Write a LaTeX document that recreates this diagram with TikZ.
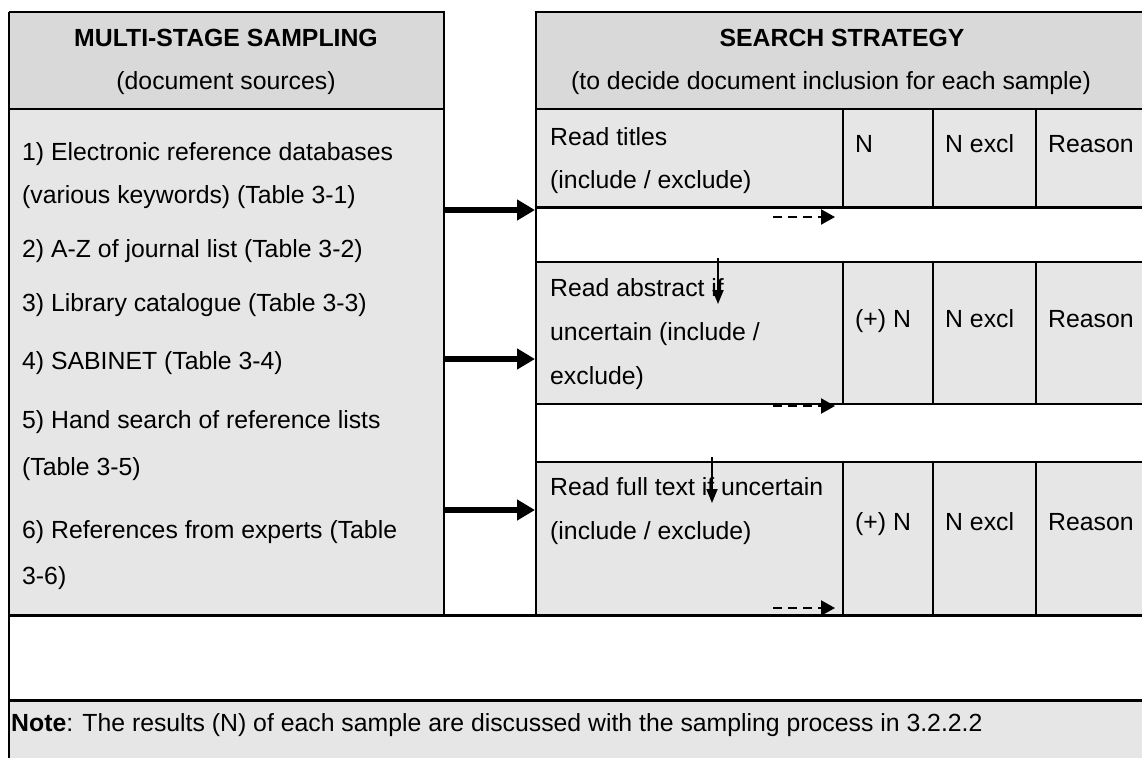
\documentclass[tikz,border=0pt]{standalone}
\usepackage{fontspec}
\setmainfont{Liberation Sans}
\usetikzlibrary{arrows.meta}
\definecolor{hdrgray}{HTML}{D9D9D9}
\definecolor{bodygray}{HTML}{E6E6E6}
\begin{document}
\begin{tikzpicture}[x=1pt,y=-1pt,
  txt/.style={font=\fontsize{24.8}{30}\selectfont, inner sep=0pt, anchor=base west},
  ctr/.style={font=\fontsize{24.8}{30}\selectfont, inner sep=0pt, anchor=base},
  hdr/.style={font=\fontsize{24.8}{30}\selectfont\bfseries, inner sep=0pt, anchor=base},
  area/.style={inner sep=0pt, outer sep=0pt, anchor=north west},
  thinline/.style={line width=1.6pt},
  heavyline/.style={line width=3pt},
  bigarrow/.style={line width=6pt, -{Triangle[length=18pt,width=20pt]}},
  dasharrow/.style={line width=2.2pt, dash pattern=on 9pt off 6pt, -{Triangle[length=14pt,width=15pt]}},
  downarrow/.style={line width=1.8pt, -{Triangle[length=14pt,width=11pt]}},
]
\useasboundingbox (0,0) rectangle (1142,758);
\fill[white] (0,0) rectangle (1142,758);

% filled areas
\node[area, fill=hdrgray, minimum width=435pt, minimum height=97pt] (lhead) at (9,12) {};
\node[area, fill=bodygray, minimum width=435pt, minimum height=506pt] (lbody) at (9,109) {};
\node[area, fill=hdrgray, minimum width=606pt, minimum height=97pt] (rhead) at (536,12) {};
\node[area, fill=bodygray, minimum width=606pt, minimum height=98pt] (row1) at (536,109) {};
\node[area, fill=bodygray, minimum width=606pt, minimum height=142pt] (row2) at (536,262) {};
\node[area, fill=bodygray, minimum width=606pt, minimum height=153pt] (row3) at (536,462) {};
\node[area, fill=bodygray, minimum width=1133pt, minimum height=58pt] (noterow) at (9,700) {};

% frame lines
\draw[thinline] (9,12) -- (444,12) -- (444,615);
\draw[thinline] (9,109) -- (444,109);
\draw[thinline] (9,12) -- (9,758);
\draw[thinline] (1142,12) -- (536,12) -- (536,615);
\draw[thinline] (536,109) -- (1142,109);
\draw[heavyline] (536,207) -- (1142,207);
\draw[line width=2.4pt] (536,262) -- (1142,262);
\draw[thinline] (536,404) -- (1142,404);
\draw[thinline] (536,462) -- (1142,462);
\draw[heavyline] (9,615) -- (1142,615);
\draw[heavyline] (9,700) -- (1142,700);
\foreach \cx in {843,933,1036}{
  \draw[thinline] (\cx,109) -- (\cx,207);
  \draw[thinline] (\cx,262) -- (\cx,404);
  \draw[thinline] (\cx,462) -- (\cx,615);
}

% headers
\node[hdr] (lh1) at (226,46) {MULTI-STAGE SAMPLING};
\node[ctr] (lh2) at (226,89) {(document sources)};
\node[hdr] (rh1) at (842,46) {SEARCH STRATEGY};
\node[ctr] (rh2) at (831,89) {(to decide document inclusion for each sample)};

% left items
\node[txt] (s1a) at (22,160) {1) Electronic reference databases};
\node[txt] (s1b) at (22,203.5) {(various keywords) (Table 3-1)};
\node[txt] (s2) at (22,257) {2) A-Z of journal list (Table 3-2)};
\node[txt] (s3) at (22,311) {3) Library catalogue (Table 3-3)};
\node[txt] (s4) at (22,369) {4) SABINET (Table 3-4)};
\node[txt] (s5a) at (22,428) {5) Hand search of reference lists};
\node[txt] (s5b) at (22,475) {(Table 3-5)};
\node[txt] (s6a) at (22,538) {6) References from experts (Table};
\node[txt] (s6b) at (22,584) {3-6)};

% right rows
\node[txt] (r1a) at (550,145) {Read titles};
\node[txt] (r1b) at (550,188) {(include / exclude)};
\node[txt] (r2a) at (550,296) {Read abstract if};
\node[txt] (r2b) at (550,340) {uncertain (include /};
\node[txt] (r2c) at (550,384) {exclude)};
\node[txt] (r3a) at (550,495) {Read full text if uncertain};
\node[txt] (r3b) at (550,539) {(include / exclude)};

\node[txt] (n1) at (855,152) {N};
\node[txt] (x1) at (945,152) {N excl};
\node[txt] (q1) at (1048,152) {Reason};
\node[txt] (n2) at (855,327) {(+) N};
\node[txt] (x2) at (945,327) {N excl};
\node[txt] (q2) at (1048,327) {Reason};
\node[txt] (n3) at (855,530) {(+) N};
\node[txt] (x3) at (945,530) {N excl};
\node[txt] (q3) at (1048,530) {Reason};

% note
\node[txt] (note) at (11,731) {\textbf{Note}: The results (N) of each sample are discussed with the sampling process in 3.2.2.2};

% arrows
\coordinate (b1s) at (444,210); \coordinate (b1e) at (535,210);
\coordinate (b2s) at (444,359); \coordinate (b2e) at (535,359);
\coordinate (b3s) at (444,510); \coordinate (b3e) at (535,510);
\draw[bigarrow] (b1s) -- (b1e);
\draw[bigarrow] (b2s) -- (b2e);
\draw[bigarrow] (b3s) -- (b3e);

\coordinate (d1s) at (773,217); \coordinate (d1e) at (835,217);
\coordinate (d2s) at (773,406); \coordinate (d2e) at (835,406);
\coordinate (d3s) at (773,608); \coordinate (d3e) at (835,608);
\draw[dasharrow] (d1s) -- (d1e);
\draw[dasharrow] (d2s) -- (d2e);
\draw[dasharrow] (d3s) -- (d3e);

\coordinate (v1s) at (718,258); \coordinate (v1e) at (718,304);
\coordinate (v2s) at (712,457); \coordinate (v2e) at (712,503);
\draw[downarrow] (v1s) -- (v1e);
\draw[downarrow] (v2s) -- (v2e);
\end{tikzpicture}
\end{document}
